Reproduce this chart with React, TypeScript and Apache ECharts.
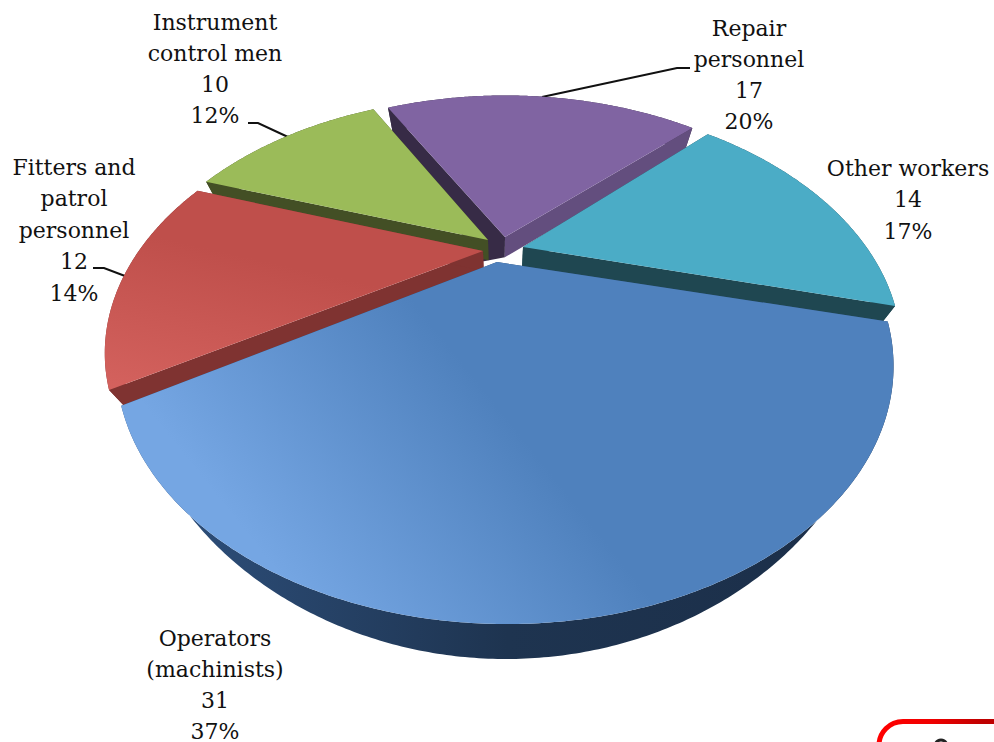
import React, { useEffect, useRef } from "react";
import * as echarts from "echarts";

// Staff breakdown, clockwise on the plate starting from the front slice.
const categories = [
  "Operators\n(machinists)",
  "Fitters and\npatrol\npersonnel",
  "Instrument\ncontrol men",
  "Repair\npersonnel",
  "Other workers",
];
const staffCounts = [31, 12, 10, 17, 14];

// Plate geometry: a disc seen in perspective, with a shallower underside.
const CX = 500, CY = 248, RX = 344, RY = 205, PERSP = 0.396;
const START_DEG = 15;
const WALL_BASE_DROP = 20, WALL_FRONT_DROP = 15, WALL_BACK_DROP = 4;
const WALL_BASE_SCALE = 0.96, WALL_FRONT_SCALE = 0.07;
const FRONT_START = 60, FRONT_SPAN = 317, BACK_SPAN = 150;

// Screen position of each slice's tip after it is pulled out of the plate,
// and the centre its rim is swept around.
const sliceTips = [[497, 262], [483, 251], [488, 240], [505, 237], [523, 247]];
const rimCentres = [[504, 259], [483, 251], [488, 240], [507, 237], [523, 247]];
const sliceRadii = [1.01, 0.995, 1, 1, 1];
// Back-to-front paint order.
const paintOrder = [3, 4, 2, 1, 0];

// wallFrom / wallTo colour the straight faces at a slice's first and last angle.
// wallFromFoot is where the first face's lower edge ends when it runs under a neighbour.
const sliceStyles: any[] = [
  { top: ["#75A6E3", "#4F81BD"], dir: [0.2, 0.85, 0.6, 0.7], wallFrom: "#2A4A72", wallTo: "#2A4A72", rim: ["#2F5280", "#1E3450", "#1B2E48"] },
  { top: ["#D4625E", "#BF4F4B"], dir: [0, 1, 0.3, 0.3], wallFrom: "#7F3331", wallTo: "#7F3331", rim: ["#843634", "#7A302E", "#7A302E"] },
  { top: ["#9BBB59", "#9BBB59"], dir: [0, 0, 1, 0], wallFrom: "#434F25", wallTo: "#434F25", rim: ["#434F25", "#434F25", "#434F25"] },
  { top: ["#8064A2", "#8064A2"], dir: [0, 0, 1, 0], wallFrom: "#372B46", wallTo: "#634E7E", rim: ["#372B46", "#372B46", "#372B46"], wallFromFoot: [480, 262] },
  { top: ["#4BACC6", "#4BACC6"], dir: [0, 0, 1, 0], wallFrom: "#1F4751", wallTo: "#1F4751", rim: ["#1F4751", "#1F4751", "#1F4751"] },
];

// Label anchors: centre x, first line's middle y, line step.
const labelAnchors = [
  { x: 215, y: 638, step: 31 },
  { x: 74, y: 167, step: 31.5 },
  { x: 215, y: 22, step: 31 },
  { x: 749, y: 28, step: 31 },
  { x: 908, y: 168, step: 31.5 },
];
const leaderLines = [
  [[248, 123], [258, 123], [288, 137]],
  [[690, 68], [677, 68], [542, 97]],
  [[93, 268], [104, 268], [125, 276]],
];

const project = (X: number, Y: number) => {
  const w = 1 - PERSP * Y;
  return [CX + (RX * X) / w, CY + (RY * Y) / w];
};
const unproject = (sx: number, sy: number) => {
  const dy = sy - CY;
  const Y = dy / (RY + PERSP * dy);
  const w = 1 - PERSP * Y;
  return [((sx - CX) * w) / RX, Y];
};
// Underside of a top-face point: nearer points drop further and pull inward.
const lowered = (p: number[]) => {
  const rel = p[1] - CY;
  const front = Math.max(0, (rel - FRONT_START) / FRONT_SPAN);
  const back = Math.max(0, -rel / BACK_SPAN);
  const s = WALL_BASE_SCALE - WALL_FRONT_SCALE * front;
  return [CX + (p[0] - CX) * s, p[1] + WALL_BASE_DROP + WALL_FRONT_DROP * front + WALL_BACK_DROP * back];
};

const total = staffCounts.reduce((a, b) => a + b, 0);
const sliceAngles = (() => {
  let a = START_DEG;
  return staffCounts.map((v) => {
    const from = a;
    a += (v / total) * 360;
    return [from, a];
  });
})();

const arcPoints = (i: number) => {
  const [from, to] = sliceAngles[i];
  const [ox, oy] = unproject(rimCentres[i][0], rimCentres[i][1]);
  const r = sliceRadii[i];
  const pts: number[][] = [];
  const n = Math.ceil(to - from) * 2;
  for (let k = 0; k <= n; k++) {
    const t = ((from + ((to - from) * k) / n) * Math.PI) / 180;
    pts.push(project(ox + r * Math.cos(t), oy + r * Math.sin(t)));
  }
  return pts;
};

const gradient = (d: number[], c: string[]) =>
  new echarts.graphic.LinearGradient(
    d[0], d[1], d[2], d[3],
    c.map((color, i) => ({ offset: i / (c.length - 1), color }))
  );

const renderSlice = (_: any, api: any) => {
  const i = api.value(0) as number;
  const s = sliceStyles[i];
  const arc = arcPoints(i);
  const tip = sliceTips[i];
  const low = arc.map(lowered);
  const first = arc[0];
  const last = arc[arc.length - 1];
  const wall = (pts: number[][], fill: any) => ({
    type: "polygon",
    shape: { points: pts },
    style: { fill, stroke: null },
  });
  const fromFoot = s.wallFromFoot ? [s.wallFromFoot, lowered(tip)] : [lowered(tip)];
  return {
    type: "group",
    children: [
      wall([...arc, ...low.slice().reverse()], gradient([0, 0, 1, 0], s.rim)),
      wall([tip, first, lowered(first), ...fromFoot], s.wallFrom),
      wall([tip, last, lowered(last), lowered(tip)], s.wallTo),
      wall([tip, ...arc], gradient(s.dir, s.top)),
    ],
  };
};

const labelGraphics = () =>
  categories.map((name, i) => {
    const pct = Math.round((staffCounts[i] / total) * 100);
    const a = labelAnchors[i];
    const lines = [...name.split("\n"), String(staffCounts[i]), pct + "%"];
    return {
      type: "group",
      children: lines.map((text, k) => ({
        type: "text",
        x: a.x,
        y: a.y + k * a.step,
        style: {
          text,
          fill: "#111",
          font: '22px "DejaVu Serif"',
          textAlign: "center",
          textVerticalAlign: "middle",
        },
      })),
    };
  });

export default function App() {
  const ref = useRef<HTMLDivElement>(null);
  useEffect(() => {
    const chart = echarts.init(ref.current!, undefined, { renderer: "svg" });
    chart.setOption({
      animation: false,
      backgroundColor: "#fff",
      series: [
        {
          type: "custom",
          coordinateSystem: "none",
          silent: true,
          renderItem: renderSlice,
          data: paintOrder.map((i) => [i]),
        },
      ],
      graphic: [
        ...labelGraphics(),
        ...leaderLines.map((points) => ({
          type: "polyline",
          shape: { points },
          style: { stroke: "#111", lineWidth: 2, fill: null },
        })),
        {
          type: "rect",
          shape: { x: 879, y: 721.5, width: 210, height: 90, r: 24 },
          style: {
            fill: "#fff",
            lineWidth: 5,
            stroke: new echarts.graphic.LinearGradient(0, 0, 1, 0, [
              { offset: 0, color: "#FF0000" },
              { offset: 0.25, color: "#F00000" },
              { offset: 0.5, color: "#BE0000" },
              { offset: 1, color: "#BE0000" },
            ]),
          },
        },
        {
          type: "arc",
          shape: { cx: 941, cy: 746, r: 6, startAngle: Math.PI * 1.15, endAngle: Math.PI * 1.85 },
          style: { stroke: "#222", lineWidth: 3, fill: null },
        },
      ],
    });
    return () => chart.dispose();
  }, []);
  return <div ref={ref} style={{ position: "absolute", left: 0, top: 0, width: 994, height: 742 }} />;
}
